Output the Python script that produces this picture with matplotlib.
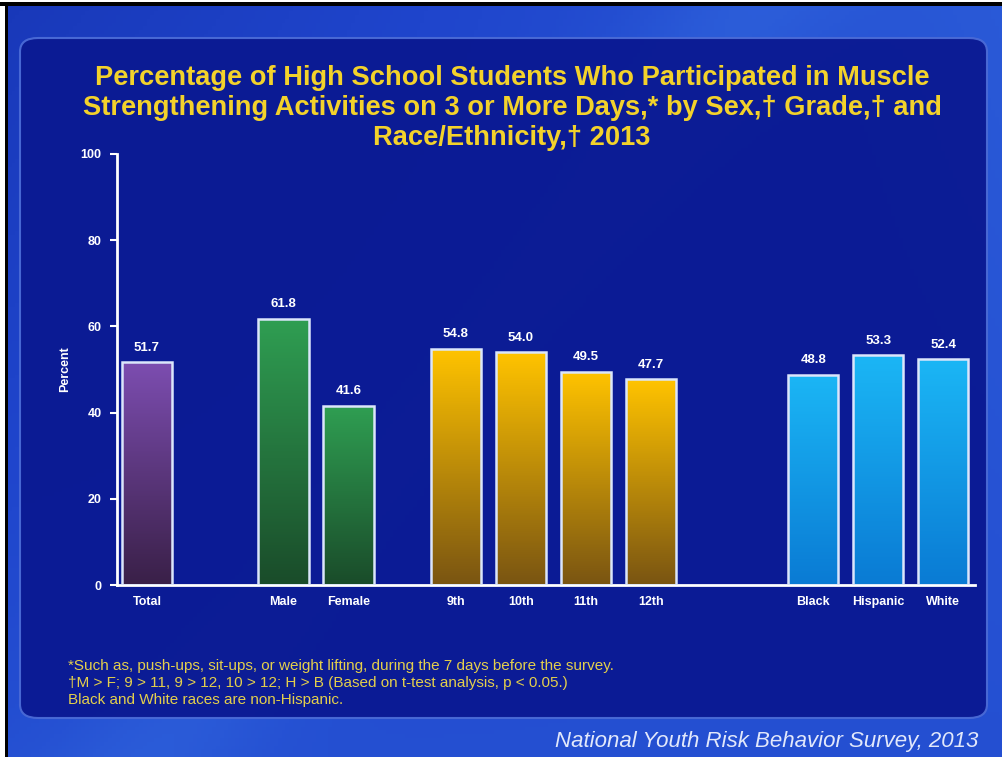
import numpy as np
import matplotlib
matplotlib.use("Agg")
import matplotlib.pyplot as plt
from matplotlib.patches import FancyBboxPatch, Rectangle
from matplotlib.colors import LinearSegmentedColormap

plt.rcParams['font.family'] = ['Liberation Sans', 'DejaVu Sans']

# data
categories = ["Total", "Male", "Female", "9th", "10th", "11th", "12th", "Black", "Hispanic", "White"]
percent = [51.7, 61.8, 41.6, 54.8, 54.0, 49.5, 47.7, 48.8, 53.3, 52.4]
group = ["total", "sex", "sex", "grade", "grade", "grade", "grade", "race", "race", "race"]

# layout: bar centres in slot units, groups separated by gaps
xpos = [0, 2.1, 3.1, 4.75, 5.75, 6.75, 7.75, 10.25, 11.25, 12.25]
bar_w = 0.77

# gradient colours (top, bottom) per group
grad = {
    "total": ("#7c4db0", "#3a2048"),
    "sex": ("#2f9e52", "#1a4c2a"),
    "grade": ("#ffc300", "#7a5512"),
    "race": ("#1bb6f5", "#0a7bd4"),
}

W, H = 1003, 757
fig = plt.figure(figsize=(W / 100, H / 100), dpi=100)

# background slide
bg = fig.add_axes([0, 0, 1, 1], zorder=-10)
bg.set_axis_off()
yy, xx = np.mgrid[0:1:200j, 0:1:260j]
base = 0.35 + 0.35 * xx * (1 - yy) + 0.25 * yy
streak = 0.12 * np.exp(-((xx + yy * 0.6 - 0.75) ** 2) / 0.01)
val = np.clip(base + streak, 0, 1)
bg_cmap = LinearSegmentedColormap.from_list("bg", ["#0a1a8c", "#1f45cc", "#3a78e8"])
bg.imshow(val, cmap=bg_cmap, extent=[0, 1, 0, 1], aspect="auto", origin="upper", vmin=0, vmax=1)
bg.set_xlim(0, 1)
bg.set_ylim(0, 1)

# panel
panel = FancyBboxPatch((20 / W, 1 - 718 / H), (987 - 20) / W, (718 - 38) / H,
                       boxstyle="round,pad=0,rounding_size=0.018",
                       transform=bg.transAxes, facecolor="#0b1a93", edgecolor="#4a6ad6",
                       linewidth=1.5, alpha=0.97)
bg.add_patch(panel)
# black frame lines
bg.add_patch(Rectangle((0, 0), 6 / W, 1, transform=bg.transAxes, facecolor="white", edgecolor="none"))
bg.add_patch(Rectangle((5 / W, 0), 3 / W, 1 - 2 / H, transform=bg.transAxes, facecolor="black", edgecolor="none"))
bg.add_patch(Rectangle((0, 1 - 6 / H), 1, 4 / H, transform=bg.transAxes, facecolor="black", edgecolor="none"))
bg.add_patch(Rectangle((0, 1 - 2 / H), 1, 2 / H, transform=bg.transAxes, facecolor="white", edgecolor="none"))

# chart axes
ax = fig.add_axes([117 / W, 1 - 585 / H, (975 - 117) / W, (585 - 154) / H])
ax.patch.set_visible(False)
unit = 65.0

for x, v, g in zip(xpos, percent, group):
    top, bot = grad[g]
    cm = LinearSegmentedColormap.from_list(g, [bot, top])
    rect = Rectangle((x - bar_w / 2, 0), bar_w, v, facecolor="none",
                     edgecolor="#dbe6fb", linewidth=1.8, zorder=3)
    ax.add_patch(rect)
    im = ax.imshow(np.linspace(1, 0, 100).reshape(-1, 1), cmap=cm, aspect="auto",
                   extent=[x - bar_w / 2, x + bar_w / 2, 0, v], zorder=2)
    im.set_clip_path(rect)
    ax.annotate(f"{v:.1f}", (x, v), xytext=(0, 6), textcoords="offset points",
                ha="center", va="bottom", color="white", fontsize=9.5, fontweight="bold")

ax.set_xlim(-30 / unit, -30 / unit + (975 - 117) / unit)
ax.set_ylim(0, 100)
ax.set_xticks(xpos)
ax.set_xticklabels(categories)
ax.set_yticks([0, 20, 40, 60, 80, 100])
ax.tick_params(axis="x", length=0, pad=8, colors="white", labelsize=9)
ax.tick_params(axis="y", length=5, width=1.5, colors="white", labelsize=9, pad=6)
for lab in ax.get_xticklabels() + ax.get_yticklabels():
    lab.set_fontweight("bold")
for s in ["top", "right"]:
    ax.spines[s].set_visible(False)
for s in ["left", "bottom"]:
    ax.spines[s].set_color("white")
    ax.spines[s].set_linewidth(2)
ax.set_ylabel("Percent", color="white", fontsize=9, fontweight="bold", labelpad=7)

# title
fig.text(512 / W, 1 - 108 / H,
         "Percentage of High School Students Who Participated in Muscle\n"
         "Strengthening Activities on 3 or More Days,* by Sex,\u2020 Grade,\u2020 and\n"
         "Race/Ethnicity,\u2020 2013",
         ha="center", va="center", color="#f3d22b", fontsize=19.6, fontweight="bold",
         linespacing=1.22)

# footnotes
fig.text(68 / W, 1 - 683 / H,
         "*Such as, push-ups, sit-ups, or weight lifting, during the 7 days before the survey.\n"
         "\u2020M > F; 9 > 11, 9 > 12, 10 > 12; H > B (Based on t-test analysis, p < 0.05.)\n"
         "Black and White races are non-Hispanic.",
         ha="left", va="center", color="#e4cf4c", fontsize=11, linespacing=1.28)

fig.text(978 / W, 1 - 741 / H, "National Youth Risk Behavior Survey, 2013",
         ha="right", va="center", color="#e2e8fb", fontsize=16, style="italic")

fig.savefig("out.png", dpi=100)
